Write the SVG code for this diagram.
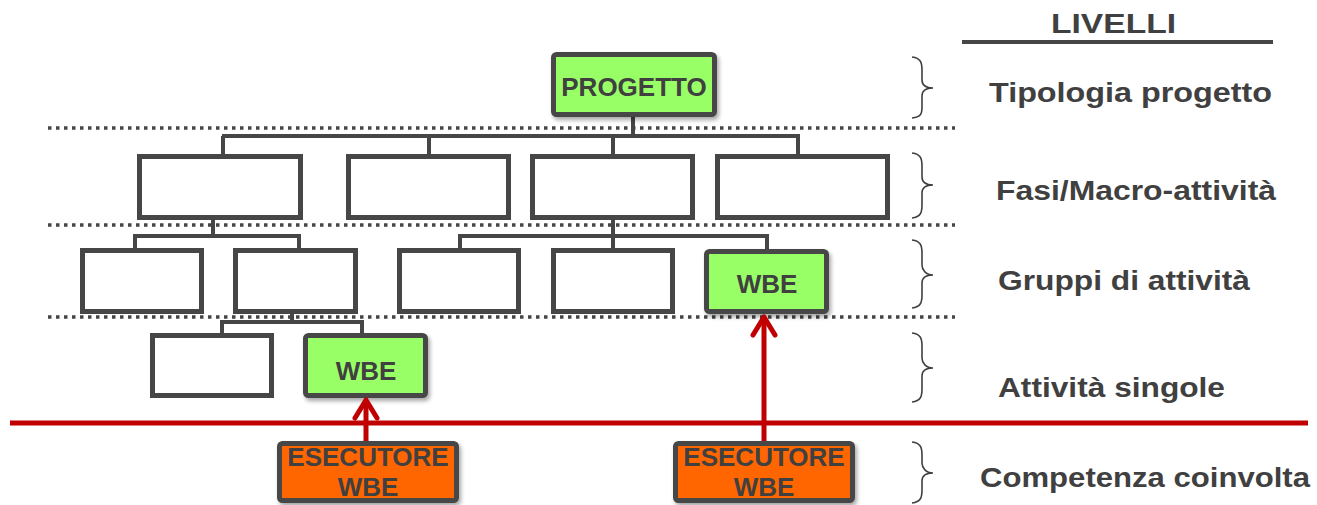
<svg xmlns="http://www.w3.org/2000/svg" width="1317" height="505" viewBox="0 0 1317 505">
  <defs>
    <filter id="shadow" x="-10%" y="-10%" width="125%" height="135%">
      <feGaussianBlur in="SourceAlpha" stdDeviation="2"/>
      <feOffset dx="2" dy="3" result="b"/>
      <feComponentTransfer><feFuncA type="linear" slope="0.35"/></feComponentTransfer>
      <feMerge><feMergeNode/><feMergeNode in="SourceGraphic"/></feMerge>
    </filter>
  </defs>
  <style>
    .box { fill: #ffffff; stroke: #464646; stroke-width: 5; }
    .wbe { fill: #99ff66; stroke: #464646; stroke-width: 5; filter: url(#shadow); }
    .exe { fill: #ff6600; stroke: #464646; stroke-width: 5; filter: url(#shadow); }
    .btxt { font-family: "Liberation Sans", Arial, sans-serif; font-weight: bold; font-size: 26px; fill: #404040; text-anchor: middle; }
    .lbl { font-family: "Liberation Sans", Arial, sans-serif; font-weight: bold; font-size: 28px; fill: #404040; }
    .sep { stroke: #464646; stroke-width: 3.5; stroke-dasharray: 3.5 4.5; fill: none; }
    .tree { stroke: #464646; stroke-width: 4; fill: none; }
    .brace { stroke: #404040; stroke-width: 1.6; fill: none; }
    .red { stroke: #c00000; stroke-width: 5; fill: none; }
  </style>

  <!-- level separators -->
  <g id="separators">
    <line class="sep" x1="48" y1="128" x2="955" y2="128"/>
    <line class="sep" x1="48" y1="225" x2="955" y2="225"/>
    <line class="sep" x1="48" y1="317" x2="955" y2="317"/>
  </g>

  <!-- tree connectors -->
  <g id="connectors">
    <path class="tree" d="M633 117 V136 M222 136 H800 M223 136 V154 M429 136 V154 M613 136 V154 M798 136 V154"/>
    <path class="tree" d="M213 220 V236 M133 236 H301 M135 236 V248 M299 236 V248"/>
    <path class="tree" d="M613 220 V248 M458 236 H769 M460 236 V248 M767 236 V249"/>
    <path class="tree" d="M292 314 V322 M220 322 H364 M222 322 V333 M362 322 V333"/>
  </g>

  <!-- top level -->
  <g id="progetto">
    <rect class="wbe" x="553.5" y="54.5" width="161" height="60" rx="3"/>
    <text class="btxt" x="634" y="96">PROGETTO</text>
  </g>

  <!-- phases / macro-activities -->
  <g id="fase1"><rect class="box" x="139.5" y="156.5" width="161" height="61"/></g>
  <g id="fase2"><rect class="box" x="348.5" y="156.5" width="160" height="61"/></g>
  <g id="fase3"><rect class="box" x="532.5" y="156.5" width="160" height="61"/></g>
  <g id="fase4"><rect class="box" x="717.5" y="156.5" width="170" height="61"/></g>

  <!-- activity groups -->
  <g id="gruppo1"><rect class="box" x="82.5" y="250.5" width="119" height="61"/></g>
  <g id="gruppo2"><rect class="box" x="235.5" y="250.5" width="120" height="61"/></g>
  <g id="gruppo3"><rect class="box" x="399.5" y="250.5" width="119" height="61"/></g>
  <g id="gruppo4"><rect class="box" x="553.5" y="250.5" width="119" height="61"/></g>
  <g id="gruppo-wbe">
    <rect class="wbe" x="706.5" y="251.5" width="120" height="60" rx="3"/>
    <text class="btxt" x="767" y="293">WBE</text>
  </g>

  <!-- single activities -->
  <g id="attivita1"><rect class="box" x="152.5" y="335.5" width="119" height="60"/></g>
  <g id="attivita-wbe">
    <rect class="wbe" x="305.5" y="335.5" width="120" height="60" rx="3"/>
    <text class="btxt" x="366" y="380">WBE</text>
  </g>

  <!-- competence boundary -->
  <line class="red" x1="10" y1="423" x2="1308" y2="423"/>

  <!-- executors with arrows -->
  <g id="arrows">
    <path class="red" d="M366 441 V400"/>
    <path class="red" stroke-linecap="round" stroke-linejoin="round" d="M355 418 L366 400 L377 418"/>
    <path class="red" d="M764 441 V318"/>
    <path class="red" stroke-linecap="round" stroke-linejoin="round" d="M753 335 L764 317 L775 335"/>
  </g>
  <g id="esecutore1">
    <rect class="exe" x="279.5" y="443.5" width="177" height="57" rx="3"/>
    <text class="btxt" x="368" y="466">ESECUTORE</text>
    <text class="btxt" x="368" y="496">WBE</text>
  </g>
  <g id="esecutore2">
    <rect class="exe" x="675.5" y="443.5" width="177" height="57" rx="3"/>
    <text class="btxt" x="764" y="466">ESECUTORE</text>
    <text class="btxt" x="764" y="496">WBE</text>
  </g>

  <!-- level legend -->
  <g id="legend">
    <text class="lbl" x="1051" y="33" textLength="125" lengthAdjust="spacingAndGlyphs">LIVELLI</text>
    <line x1="962" y1="42" x2="1273" y2="42" stroke="#464646" stroke-width="4"/>
    <path class="brace" d="M912 57 C921 58 922 63 922 70 V80 C922 85 926 88 933 88 C926 88 922 91 922 96 V107 C922 114 921 117 912 118"/>
    <path class="brace" d="M912 153 C921 154 922 159 922 166 V177 C922 182 926 185 933 185 C926 185 922 188 922 193 V205 C922 212 921 217 912 218"/>
    <path class="brace" d="M912 240 C921 241 922 246 922 253 V265 C922 270 926 275 933 275 C926 275 922 278 922 283 V295 C922 302 921 307 912 308"/>
    <path class="brace" d="M912 333 C921 334 922 339 922 346 V358 C922 363 926 368 933 368 C926 368 922 371 922 376 V389 C922 396 921 401 912 402"/>
    <path class="brace" d="M912 442 C921 443 922 448 922 455 V463 C922 468 926 473 933 473 C926 473 922 476 922 481 V490 C922 497 921 502 912 503"/>
    <text class="lbl" x="989" y="102" textLength="283" lengthAdjust="spacingAndGlyphs">Tipologia progetto</text>
    <text class="lbl" x="996" y="200" textLength="280" lengthAdjust="spacingAndGlyphs">Fasi/Macro-attività</text>
    <text class="lbl" x="998" y="290" textLength="252" lengthAdjust="spacingAndGlyphs">Gruppi di attività</text>
    <text class="lbl" x="998" y="397" textLength="227" lengthAdjust="spacingAndGlyphs">Attività singole</text>
    <text class="lbl" x="980" y="487" textLength="330" lengthAdjust="spacingAndGlyphs">Competenza coinvolta</text>
  </g>
</svg>
